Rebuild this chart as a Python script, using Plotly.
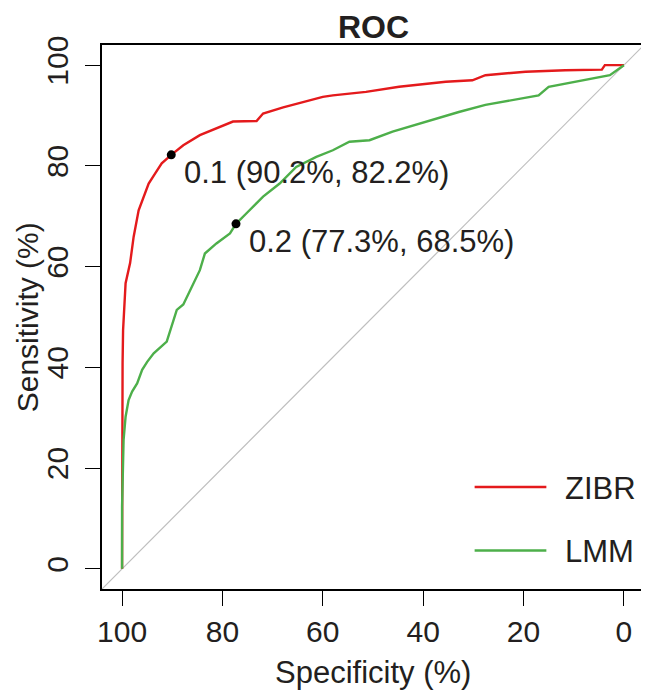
import plotly.graph_objects as go

# ROC curves (specificity %, sensitivity %)
zibr_spec = [100, 100, 99.9, 99.8, 99.5, 99.3, 98.4, 97.7, 96.7, 96.0, 94.7, 93.4, 92.1, 90.2,
             87.8, 84.5, 81.2, 77.9, 73.2, 71.9, 67.9, 64.0, 60.0, 58.0, 51.4, 44.8, 35.5,
             30.2, 27.6, 19.6, 11.7, 4.4, 3.8, 0.5, 0]
zibr_sens = [0, 15.0, 40.9, 47.4, 53.4, 56.7, 60.7, 65.9, 71.2, 73.2, 76.5, 78.5, 80.5, 82.2,
             84.1, 86.1, 87.4, 88.8, 88.9, 90.4, 91.6, 92.7, 93.7, 94.0, 94.7, 95.7, 96.7,
             97.0, 98.0, 98.7, 99.0, 99.1, 100, 100, 100]

lmm_spec = [100, 100, 99.7, 99.3, 98.7, 98.0, 97.0, 96.0, 95.0, 93.7, 91.1, 90.4, 89.1, 87.8,
            86.4, 84.5, 83.5, 81.2, 78.5, 77.3, 75.2, 71.9, 68.6, 65.3, 61.3, 58.0, 54.7,
            50.7, 46.1, 42.8, 38.2, 32.9, 27.6, 22.3, 17.0, 15.0, 8.4, 2.8, 0]
lmm_sens = [0, 12.4, 25.6, 30.2, 33.5, 35.2, 36.8, 39.5, 41.1, 42.8, 45.1, 47.4, 51.4, 52.5,
            55.4, 59.3, 62.6, 64.6, 66.6, 68.5, 70.6, 73.9, 76.5, 79.8, 81.8, 83.1, 84.8,
            85.1, 86.8, 87.8, 89.1, 90.7, 92.1, 93.1, 94.0, 95.7, 97.0, 98.0, 100]

# best thresholds printed on the curves
thr_labels = ["0.1", "0.2"]
thr_spec = [90.2, 77.3]
thr_sens = [82.2, 68.5]

series_names = ["ZIBR", "LMM"]
series_colors = ["#E41A1C", "#4DAF4A"]

ticks = [0, 20, 40, 60, 80, 100]
x_range = [104, -4]
y_range = [-4, 104]

FONT = "Liberation Sans, Arial, Helvetica, sans-serif"
TXT = "#231F20"

# the page body adds an 8px margin, so the figure is a bit smaller than the window
OFF = 8
W, H = 649 - OFF, 692 - OFF
L, R, T, B = 102 - OFF, 3, 45 - OFF, 103
PW, PH = W - L - R, H - T - B


def px(x):
    # window pixel -> paper coordinate
    return (x - OFF - L) / PW


def py(y):
    return (OFF + H - B - y) / PH


fig = go.Figure()

# chance line across the whole plot box
fig.add_trace(go.Scatter(
    x=x_range, y=y_range, mode="lines",
    line=dict(color="#BEBEBE", width=1.2), showlegend=False, hoverinfo="skip",
))

fig.add_trace(go.Scatter(
    x=zibr_spec, y=zibr_sens, mode="lines", name=series_names[0],
    line=dict(color=series_colors[0], width=2.4), showlegend=False,
))
fig.add_trace(go.Scatter(
    x=lmm_spec, y=lmm_sens, mode="lines", name=series_names[1],
    line=dict(color=series_colors[1], width=2.4), showlegend=False,
))

fig.add_trace(go.Scatter(
    x=thr_spec, y=thr_sens, mode="markers",
    marker=dict(color="black", size=9), showlegend=False,
))

for lab, s, e in zip(thr_labels, thr_spec, thr_sens):
    fig.add_annotation(
        x=s, y=e, xref="x", yref="y",
        text=f"{lab} ({s:.1f}%, {e:.1f}%)",
        showarrow=False, xanchor="left", yanchor="middle",
        xshift=11, yshift=-18,
        font=dict(size=31, color=TXT, family=FONT),
    )

# hand-made legend, bottom right
for i, (name, col) in enumerate(zip(series_names, series_colors)):
    yy = 487 + i * 63.5
    fig.add_shape(
        type="line", xref="paper", yref="paper",
        x0=px(476), x1=px(548), y0=py(yy), y1=py(yy),
        line=dict(color=col, width=2.6),
    )
    fig.add_annotation(
        x=px(565), y=py(yy + 1), xref="paper", yref="paper",
        text=name, showarrow=False, xanchor="left", yanchor="middle",
        font=dict(size=31, color=TXT, family=FONT),
    )

# titles
fig.add_annotation(
    x=0.5, y=py(27), xref="paper", yref="paper", text="<b>ROC</b>",
    showarrow=False, xanchor="center", yanchor="middle", borderpad=0,
    font=dict(size=32, color=TXT, family=FONT),
)
fig.add_annotation(
    x=0.5, y=py(672), xref="paper", yref="paper", text="Specificity (%)",
    showarrow=False, xanchor="center", yanchor="middle",
    font=dict(size=31, color=TXT, family=FONT),
)
fig.add_annotation(
    x=px(27), y=0.5, xref="paper", yref="paper", text="Sensitivity (%)",
    showarrow=False, xanchor="center", yanchor="middle", textangle=-90, borderpad=0,
    font=dict(size=30, color=TXT, family=FONT),
)

axis_common = dict(
    tickvals=ticks, ticks="outside", ticklen=15, tickwidth=1.3, tickcolor="black",
    showline=True, linecolor="black", linewidth=1.5, mirror=True,
    showgrid=False, zeroline=False,
    tickfont=dict(size=30, color=TXT, family=FONT),
)

fig.update_xaxes(range=x_range, **axis_common)
fig.update_yaxes(range=y_range, tickangle=-90, ticklabelstandoff=5, **axis_common)

fig.update_layout(
    width=W, height=H,
    margin=dict(l=L, r=R, t=T, b=B),
    plot_bgcolor="white", paper_bgcolor="white",
    showlegend=False,
)

fig.write_html("out.html")
